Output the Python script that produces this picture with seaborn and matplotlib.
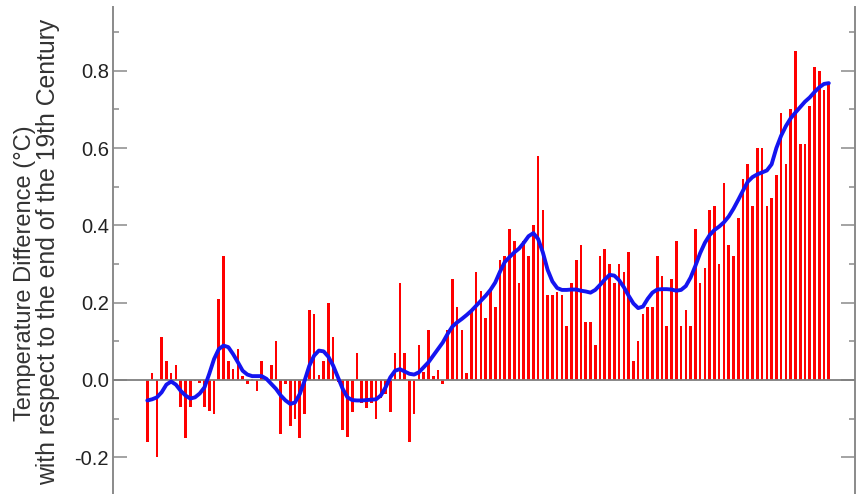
import matplotlib
matplotlib.use("Agg")
import matplotlib.pyplot as plt
import seaborn as sns
import pandas as pd
from matplotlib.ticker import MultipleLocator

# ---- data ----
years = list(range(1880, 2024))
anomaly = [
    -0.16, 0.017, -0.20, 0.11, 0.05, 0.017, 0.04, -0.07, -0.15, -0.07,
    -0.003, -0.009, -0.07, -0.08, -0.088, 0.21, 0.32, 0.05, 0.028, 0.08,
    0.01, -0.01, 0.003, -0.028, 0.05, 0.003, 0.04, 0.10, -0.14, -0.01,
    -0.12, -0.10, -0.15, -0.088, 0.18, 0.17, 0.012, 0.05, 0.20, 0.11,
    -0.005, -0.13, -0.148, -0.082, 0.07, -0.06, -0.072, -0.06, -0.10, -0.047,
    -0.035, -0.082, 0.07, 0.25, 0.07, -0.16, -0.088, 0.09, 0.02, 0.13,
    0.01, 0.027, -0.01, 0.13, 0.26, 0.19, 0.13, 0.017, 0.18, 0.28,
    0.23, 0.16, 0.23, 0.19, 0.31, 0.32, 0.39, 0.36, 0.25, 0.36,
    0.32, 0.40, 0.58, 0.44, 0.22, 0.22, 0.227, 0.22, 0.14, 0.25,
    0.31, 0.35, 0.15, 0.15, 0.09, 0.32, 0.34, 0.30, 0.25, 0.30,
    0.28, 0.33, 0.05, 0.10, 0.17, 0.19, 0.19, 0.32, 0.27, 0.14,
    0.26, 0.36, 0.14, 0.18, 0.14, 0.39, 0.25, 0.29, 0.44, 0.45,
    0.30, 0.51, 0.35, 0.32, 0.42, 0.52, 0.56, 0.45, 0.60, 0.60,
    0.45, 0.47, 0.53, 0.69, 0.56, 0.70, 0.85, 0.61, 0.61, 0.71,
    0.81, 0.80, 0.75, 0.77,
]
smoothed = [
    -0.053, -0.050, -0.045, -0.032, -0.012, -0.004, -0.012, -0.028, -0.040, -0.048,
    -0.045, -0.035, -0.019, 0.016, 0.054, 0.080, 0.089, 0.085, 0.067, 0.046,
    0.024, 0.014, 0.010, 0.010, 0.010, 0.003, -0.010, -0.023, -0.040, -0.053,
    -0.062, -0.058, -0.036, -0.002, 0.037, 0.063, 0.076, 0.074, 0.060, 0.037,
    0.007, -0.023, -0.045, -0.052, -0.053, -0.053, -0.052, -0.051, -0.050, -0.040,
    -0.019, 0.007, 0.024, 0.028, 0.022, 0.016, 0.014, 0.020, 0.033, 0.046,
    0.063, 0.080, 0.097, 0.119, 0.138, 0.149, 0.158, 0.168, 0.179, 0.192,
    0.205, 0.218, 0.233, 0.252, 0.280, 0.305, 0.318, 0.330, 0.340, 0.355,
    0.372, 0.380, 0.365, 0.330, 0.285, 0.255, 0.238, 0.233, 0.233, 0.234,
    0.234, 0.231, 0.229, 0.226, 0.233, 0.246, 0.260, 0.272, 0.270, 0.258,
    0.240, 0.218, 0.198, 0.186, 0.190, 0.210, 0.226, 0.234, 0.235, 0.235,
    0.234, 0.231, 0.233, 0.243, 0.265, 0.295, 0.328, 0.355, 0.375, 0.388,
    0.397, 0.408, 0.423, 0.443, 0.466, 0.490, 0.513, 0.525, 0.532, 0.537,
    0.542, 0.558, 0.600, 0.632, 0.657, 0.677, 0.692, 0.706, 0.720, 0.731,
    0.745, 0.757, 0.766, 0.768,
]
yticks = [-0.2, 0.0, 0.2, 0.4, 0.6, 0.8]
ylabel1 = "Temperature Difference (\u00b0C)"
ylabel2 = "with respect to the end of the 19th Century"

df = pd.DataFrame({"year": years, "anomaly": anomaly, "smoothed": smoothed})

sns.set_style("white")
plt.rcParams["font.family"] = ["Liberation Sans", "DejaVu Sans"]

fig = plt.figure(figsize=(8.64, 4.94), dpi=100)
ax = fig.add_axes([113 / 864, 0.0, (855 - 113) / 864, 487 / 494])

sns.barplot(data=df, x="year", y="anomaly", native_scale=True, color="#ff0000",
            saturation=1, width=0.55, linewidth=0, ax=ax, zorder=2)
ax.axhline(0, color="#7f7f7f", lw=1.3, zorder=3)
sns.lineplot(data=df, x="year", y="smoothed", color="#1414f0", lw=2.8, ax=ax,
             zorder=4, solid_capstyle="round", solid_joinstyle="round")

ax.set_xlim(1872.8, 2028.5)
ax.set_ylim(-0.295, 0.965)
ax.set_yticks(yticks)
ax.set_yticklabels([f"{v:.1f}" for v in yticks])
ax.yaxis.set_minor_locator(MultipleLocator(0.1))
ax.set_xticks([])
ax.set_xlabel("")
ax.set_ylabel("")

for s in ["top", "bottom"]:
    ax.spines[s].set_visible(False)
for s in ["left", "right"]:
    ax.spines[s].set_visible(True)
    ax.spines[s].set_color("#8a8a8a")
    ax.spines[s].set_linewidth(1.4)

ax.tick_params(axis="y", which="major", direction="in", left=True, right=True,
               length=10, width=1.1, color="#8a8a8a", labelsize=14.5,
               labelcolor="#222222", pad=3)
ax.tick_params(axis="y", which="minor", direction="in", left=True, right=True,
               length=4.6, width=1.1, color="#8a8a8a")

fig.text(25 / 864, 0.447, ylabel1, rotation=90, ha="center", va="center",
         fontsize=17, color="#333333")
fig.text(48 / 864, 0.49, ylabel2, rotation=90, ha="center", va="center",
         fontsize=17.8, color="#333333")

fig.savefig("out.png", dpi=100)
